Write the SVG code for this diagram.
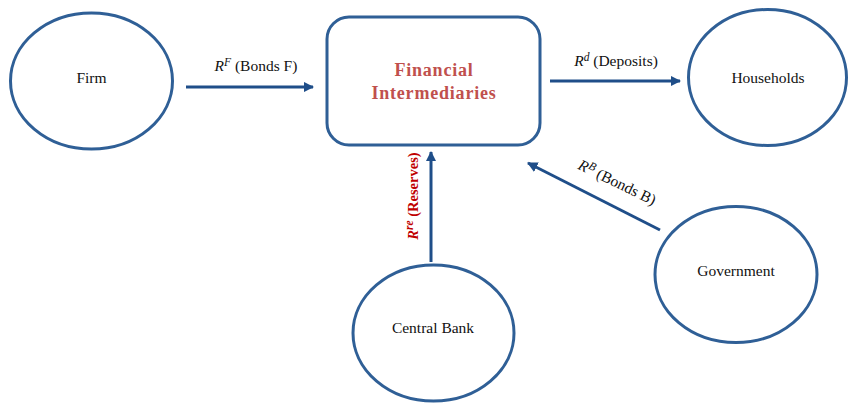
<svg xmlns="http://www.w3.org/2000/svg" width="848" height="403" viewBox="0 0 848 403">
<style>
text{font-family:"Liberation Serif","DejaVu Serif",serif}
.node{fill:#fff;stroke:#2f5f96;stroke-width:3}
.lbl{font-size:15.5px;fill:#111;text-anchor:middle}
.fi{font-size:18px;fill:#c0504d;text-anchor:middle;font-weight:bold;letter-spacing:0.8px}
.conn{stroke:#1f4e89;stroke-width:3;fill:none}
.el{font-size:15.5px;fill:#111;text-anchor:middle}
.re{font-size:14.5px;fill:#c00000;text-anchor:middle;font-weight:bold}
.sup{font-style:italic;font-size:11.5px}
</style>
<defs>
<marker id="ah" viewBox="0 0 10 10" refX="9" refY="5" markerWidth="3.5" markerHeight="3.5" orient="auto">
<path d="M0,0 L10,5 L0,10 z" fill="#1f4e89"/>
</marker>
</defs>
<rect width="848" height="403" fill="#fff"/>
<g id="firm"><ellipse class="node" cx="91.5" cy="81" rx="81" ry="68"/><text class="lbl" x="91.5" y="83">Firm</text></g>
<g id="fi"><rect class="node" x="327" y="17" width="213" height="128" rx="22"/><text class="fi" x="434" y="76">Financial</text><text class="fi" x="434" y="99">Intermediaries</text></g>
<g id="households"><ellipse class="node" cx="767.5" cy="77.5" rx="79" ry="68"/><text class="lbl" x="768" y="83">Households</text></g>
<g id="government"><ellipse class="node" cx="736" cy="274.5" rx="81" ry="68"/><text class="lbl" x="736" y="276">Government</text></g>
<g id="centralbank"><ellipse class="node" cx="433.5" cy="333" rx="80.5" ry="68"/><text class="lbl" x="433" y="333">Central Bank</text></g>
<g id="connectors">
<line class="conn" x1="186" y1="87" x2="313" y2="87" marker-end="url(#ah)"/>
<line class="conn" x1="550" y1="81" x2="680" y2="81" marker-end="url(#ah)"/>
<line class="conn" x1="431" y1="262" x2="431" y2="152" marker-end="url(#ah)"/>
<line class="conn" x1="660" y1="230" x2="528" y2="163" marker-end="url(#ah)"/>
<text class="el" x="256" y="71"><tspan font-style="italic">R</tspan><tspan class="sup" dy="-5">F</tspan><tspan dy="5"> (Bonds F)</tspan></text>
<text class="el" x="616" y="66"><tspan font-style="italic">R</tspan><tspan class="sup" dy="-5">d</tspan><tspan dy="5"> (Deposits)</tspan></text>
<text class="re" transform="translate(418,196) rotate(-90)"><tspan font-style="italic">R</tspan><tspan class="sup" dy="-5">re</tspan><tspan dy="5"> (Reserves)</tspan></text>
<text class="el" transform="translate(615,187) rotate(26)"><tspan font-style="italic">R</tspan><tspan class="sup" dy="-5">B</tspan><tspan dy="5"> (Bonds B)</tspan></text>
</g>
</svg>
